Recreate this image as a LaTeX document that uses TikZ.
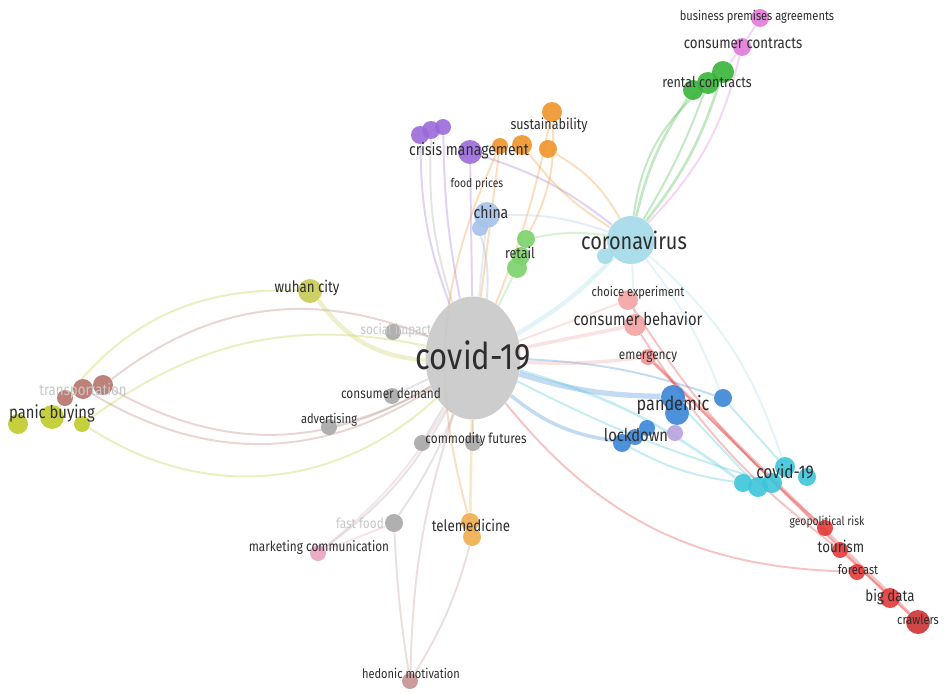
\documentclass[tikz,border=0pt]{standalone}
\usepackage{fontspec}
\setmainfont{Fira Sans}[FakeStretch=0.84]
\usetikzlibrary{backgrounds,shapes.geometric}

\definecolor{cbig}{HTML}{C8C8C8}
\definecolor{cgrey}{HTML}{A8A8A8}
\definecolor{colive}{HTML}{C0CA28}
\definecolor{cwuhan}{HTML}{C9CB55}
\definecolor{cbrown}{HTML}{B8746C}
\definecolor{cpurple}{HTML}{9B6ADA}
\definecolor{corange}{HTML}{F0952A}
\definecolor{cchina}{HTML}{A6C3EA}
\definecolor{clgreen}{HTML}{7CD26C}
\definecolor{ccoron}{HTML}{A2DBE8}
\definecolor{cgreen}{HTML}{38B43A}
\definecolor{cpink}{HTML}{E07ADA}
\definecolor{csalmon}{HTML}{F2A2A2}
\definecolor{cblue}{HTML}{3A86D8}
\definecolor{clav}{HTML}{B9A2DE}
\definecolor{ccyan}{HTML}{3CC6DA}
\definecolor{cred}{HTML}{E43A3A}
\definecolor{ctele}{HTML}{F0AE4E}
\definecolor{cmark}{HTML}{E9A3BF}
\definecolor{chedon}{HTML}{C79191}
\definecolor{ctext}{HTML}{2E2E2E}

\begin{document}
\begin{tikzpicture}[x=0.02cm,y=-0.02cm,
                    kw/.style 2 args={circle,inner sep=0pt,minimum size={0.04cm*#1},fill=#2,fill opacity=0.9},
                    hub/.style={ellipse,inner sep=0pt,minimum width=1.9cm,minimum height=2.46cm,fill=cbig,fill opacity=0.9},
                    lbl/.style={text=ctext,inner sep=0pt,font=\fontsize{#1}{#1}\selectfont},
                    faint/.style={text=black!22,inner sep=0pt,font=\fontsize{#1}{#1}\selectfont},
                    lnk/.style={line width=1.1pt,draw opacity=0.3}]
  \useasboundingbox (0,0) rectangle (946,693);

  % grey cluster
  \node[hub]            (covid)   at (473,358) {};
  \node[kw={8}{cgrey}]  (social)  at (393,332) {};
  \node[kw={8}{cgrey}]  (demand)  at (392,396) {};
  \node[kw={8}{cgrey}]  (advert)  at (329,427) {};
  \node[kw={8}{cgrey}]  (commod1) at (422,443) {};
  \node[kw={8}{cgrey}]  (commod2) at (473,443) {};
  \node[kw={9}{cgrey}]  (fast)    at (394,523) {};
  % panic buying, transportation, wuhan
  \node[kw={10}{colive}] (pb1) at (18,424) {};
  \node[kw={12}{colive}] (pb2) at (52,417) {};
  \node[kw={8}{colive}]  (pb3) at (82,424) {};
  \node[kw={8}{cbrown}]  (tr1) at (65,398) {};
  \node[kw={10}{cbrown}] (tr2) at (83,389) {};
  \node[kw={10}{cbrown}] (tr3) at (103,385) {};
  \node[kw={12}{cwuhan}] (wuhan) at (310,291) {};
  % crisis management, sustainability, china, retail
  \node[kw={9}{cpurple}]  (cm1) at (420,135) {};
  \node[kw={9}{cpurple}]  (cm2) at (431,130) {};
  \node[kw={8}{cpurple}]  (cm3) at (443,127) {};
  \node[kw={12}{cpurple}] (cm4) at (470,152) {};
  \node[kw={10}{corange}] (su1) at (552,112) {};
  \node[kw={8}{corange}]  (su2) at (500,146) {};
  \node[kw={10}{corange}] (su3) at (522,145) {};
  \node[kw={9}{corange}]  (su4) at (548,149) {};
  \node[kw={13}{cchina}]  (china1) at (487,215) {};
  \node[kw={8}{cchina}]   (china2) at (480,228) {};
  \node[kw={9}{clgreen}]  (retail1) at (526,239) {};
  \node[kw={10}{clgreen}] (retail2) at (517,268) {};
  \node[kw={9}{clgreen}]  (retail3) at (521,256) {};
  % coronavirus and contracts
  \node[kw={24}{ccoron}] (coron)  at (631,240) {};
  \node[kw={8}{ccoron}]  (coron2) at (605,256) {};
  \node[kw={10}{cgreen}] (rc1) at (693,90) {};
  \node[kw={11}{cgreen}] (rc2) at (708,83) {};
  \node[kw={11}{cgreen}] (rc3) at (723,72) {};
  \node[kw={9}{cpink}]   (cc)  at (742,47) {};
  \node[kw={9}{cpink}]   (bpa) at (760,18) {};
  % consumer behaviour
  \node[kw={10}{csalmon}] (choice) at (628,300) {};
  \node[kw={11}{csalmon}] (cbeh)   at (635,325) {};
  \node[kw={8}{csalmon!90!red}] (emerg) at (648,357) {};
  % pandemic, lockdown
  \node[kw={12}{cblue}] (pan1) at (673,397) {};
  \node[kw={12}{cblue}] (pan2) at (677,413) {};
  \node[kw={9}{cblue}]  (pan3) at (723,398) {};
  \node[kw={8}{clav}]   (lav)  at (675,433) {};
  \node[kw={9}{cblue}]  (lock1) at (622,443) {};
  \node[kw={8}{cblue}]  (lock2) at (635,437) {};
  \node[kw={8}{cblue}]  (lock3) at (647,428) {};
  % covid-19 (cyan) and red chain
  \node[kw={9}{ccyan}]  (cy1) at (743,483) {};
  \node[kw={10}{ccyan}] (cy2) at (758,487) {};
  \node[kw={10}{ccyan}] (cy3) at (772,483) {};
  \node[kw={10}{ccyan}] (cy4) at (785,467) {};
  \node[kw={9}{ccyan}]  (cy5) at (807,477) {};
  \node[kw={8}{cred}]   (geo)   at (825,528) {};
  \node[kw={8}{cred}]   (tour)  at (840,550) {};
  \node[kw={8}{cred}]   (forec) at (857,572) {};
  \node[kw={10}{cred}]  (bigd)  at (890,598) {};
  \node[kw={12}{cred!90!black}] (crawl) at (918,622) {};
  % bottom
  \node[kw={9}{ctele}]  (tele1)  at (470,522) {};
  \node[kw={9}{ctele}]  (tele2)  at (472,537) {};
  \node[kw={8}{cmark}]  (market) at (318,553) {};
  \node[kw={8}{chedon}] (hedon)  at (410,681) {};

  \begin{scope}[on background layer]
    \fill[white] (0,0) rectangle (946,693);
    \path[lnk]
      % grey
      (covid) edge[cgrey, bend right=8] (social)
              edge[cgrey] (demand)
              edge[cgrey, bend left=8] (advert)
              edge[cgrey] (commod1)
              edge[cgrey] (commod2)
              edge[cgrey, bend left=6] (fast)
              edge[cgrey, bend left=12] (market)
              edge[cgrey, bend right=10] (china2)
              edge[cgrey, bend left=10] (cm2)
      % olive and brown arcs
      (pb2) edge[colive, bend left=28] (wuhan)
      (pb3) edge[colive, bend left=24] (covid)
      (pb3) edge[colive, bend right=38] (covid)
      (tr3) edge[cbrown, bend left=30] (covid)
      (tr3) edge[cbrown, bend right=30] (covid)
      (tr2) edge[cbrown, bend right=32] (covid)
      (wuhan) edge[cwuhan, line width=2.5pt, bend right=25] (covid)
      % top clusters
      (cm1) edge[cpurple, bend right=10] (covid)
      (cm3) edge[cpurple, bend right=5] (covid)
      (cm4) edge[cpurple] (covid)
      (cm4) edge[cpurple, bend left=10] (coron)
      (su1) edge[corange, bend left=5] (covid)
      (su2) edge[corange] (covid)
      (su3) edge[corange, bend right=10] (coron)
      (su4) edge[corange, bend left=15] (coron)
      (su1) edge[corange, bend left=15] (retail1)
      (su2) edge[corange, bend right=20] (tele1)
      (china1) edge[cchina] (covid)
      (china1) edge[cchina, bend left=10] (coron)
      (retail2) edge[clgreen] (covid)
      (retail1) edge[clgreen, bend left=10] (coron)
      % coronavirus
      (coron) edge[ccoron, line width=2.5pt, bend left=8] (covid)
              edge[cgreen, line width=1.5pt, bend left=10] (rc1)
              edge[cgreen, bend right=5] (rc2)
              edge[cgreen, line width=1.5pt, bend right=10] (rc3)
              edge[cgreen, bend left=20] (rc2)
              edge[cpink, bend right=15] (cc)
              edge[ccoron, bend left=15] (cy4)
              edge[ccoron, bend left=8] (pan3)
              edge[ccoron] (cbeh)
      (rc3) edge[cpink] (cc)
      (cc) edge[cpink] (bpa)
      % blue and cyan
      (covid) edge[cblue, line width=3pt, bend right=8] (pan1)
              edge[cblue, line width=2pt, bend right=15] (lock1)
              edge[ccyan, line width=1.5pt, bend left=10] (cy1)
              edge[ccyan, bend right=5] (cy3)
              edge[cblue, bend left=8] (pan3)
      (pan1) edge[ccyan] (cy2)
      (pan3) edge[ccyan] (cy4)
      (lock1) edge[ccyan, bend right=10] (cy1)
      % salmon and red
      (covid) edge[csalmon, line width=2pt] (cbeh)
              edge[csalmon] (choice)
              edge[csalmon, line width=2pt, bend right=5] (emerg)
      (cbeh) edge[cred, bend right=10] (tour)
      (emerg) edge[cred, line width=2pt] (crawl)
      (emerg) edge[cred] (bigd)
      (choice) edge[cred, bend right=8] (geo)
      (tour) edge[cred] (crawl)
      (forec) edge[cred, bend left=25] (covid)
      % bottom
      (covid) edge[ctele, line width=1.5pt] (tele1)
      (covid) edge[cmark, bend left=10] (market)
      (market) edge[cmark] (fast)
      (hedon) edge[chedon, bend left=8] (covid)
      (hedon) edge[chedon, bend right=8] (tele2)
      (hedon) edge[chedon, bend left=3] (fast);
  \end{scope}

  % labels
  \node[lbl=21]  (t-covid)  at (473,356) {covid-19};
  \node[faint=8] (t-social) at (396,331) {social impact};
  \node[lbl=8]   (t-demand) at (391,393) {consumer demand};
  \node[lbl=7.5] (t-advert) at (329,420) {advertising};
  \node[lbl=8]   (t-commod) at (476,440) {commodity futures};
  \node[faint=8] (t-fast)   at (360,523) {fast food};
  \node[lbl=10]  (t-panic)  at (52,414)  {panic buying};
  \node[faint=9] (t-trans)  at (83,391)  {transportation};
  \node[lbl=9]   (t-wuhan)  at (307,288) {wuhan city};
  \node[lbl=9.5] (t-crisis) at (469,151) {crisis management};
  \node[lbl=8.5] (t-sust)   at (549,125) {sustainability};
  \node[lbl=7]   (t-food)   at (477,184) {food prices};
  \node[lbl=9.5] (t-china)  at (491,212) {china};
  \node[lbl=8.5] (t-retail) at (520,253) {retail};
  \node[lbl=13.5] (t-coron) at (634,240) {coronavirus};
  \node[lbl=8.5] (t-rental) at (707,82)  {rental contracts};
  \node[lbl=9]   (t-cc)     at (743,43)  {consumer contracts};
  \node[lbl=7.5] (t-bpa)    at (757,17)  {business premises agreements};
  \node[lbl=7.5] (t-choice) at (638,293) {choice experiment};
  \node[lbl=10]  (t-cbeh)   at (638,319) {consumer behavior};
  \node[lbl=8]   (t-emerg)  at (648,357) {emergency};
  \node[lbl=11]  (t-pan)    at (673,405) {pandemic};
  \node[lbl=10]  (t-lock)   at (636,435) {lockdown};
  \node[lbl=10.5] (t-cy)    at (785,472) {covid-19};
  \node[lbl=7]   (t-geo)    at (827,522) {geopolitical risk};
  \node[lbl=9]   (t-tour)   at (841,546) {tourism};
  \node[lbl=7.5] (t-forec)  at (858,570) {forecast};
  \node[lbl=9]   (t-bigd)   at (890,597) {big data};
  \node[lbl=7.5] (t-crawl)  at (918,620) {crawlers};
  \node[lbl=9]   (t-tele)   at (471,525) {telemedicine};
  \node[lbl=8]   (t-market) at (319,548) {marketing communication};
  \node[lbl=7.5] (t-hedon)  at (411,673) {hedonic motivation};
\end{tikzpicture}
\end{document}
